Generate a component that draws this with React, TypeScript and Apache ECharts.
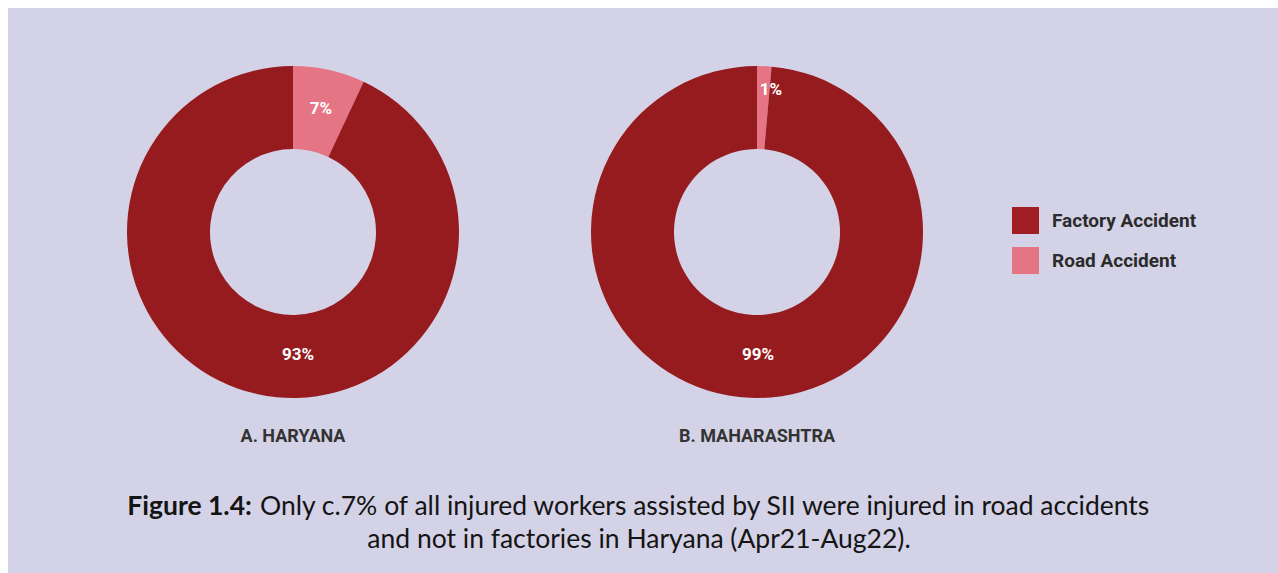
import React, { useEffect, useRef } from "react";
import * as echarts from "echarts";

const categories = ["Road Accident", "Factory Accident"];
const legendOrder = ["Factory Accident", "Road Accident"];
const haryanaValues = [7, 93];
const maharashtraValues = [1.4, 98.6];
const panelTitles = ["A. HARYANA", "B. MAHARASHTRA"];
const captionBold = "Figure 1.4:";
const captionLine1 = " Only c.7% of all injured workers assisted by SII were injured in road accidents";
const captionLine2 = "and not in factories in Haryana (Apr21-Aug22).";

const FACTORY = "#961b1f";
const ROAD = "#e57585";
const BG = "#d4d2e6";

export default function App() {
  const ref = useRef<HTMLDivElement>(null);
  useEffect(() => {
    if (!ref.current) return;
    const chart = echarts.init(ref.current, null, { renderer: "svg" });
    const centers = [
      [285, 224],
      [749, 224],
    ];
    // label anchor offsets from the pie centre: [small slice, big slice]
    const labelOffsets = [
      [null, [5, 122]],
      [[14, -143], [1, 122]],
    ];
    const datasets = [haryanaValues, maharashtraValues];
    const series = datasets.map((vals, si) => ({
      type: "pie",
      center: centers[si],
      radius: [83, 166],
      startAngle: 90,
      clockwise: true,
      silent: true,
      data: categories.map((c, i) => ({
        name: c,
        value: vals[i],
        itemStyle: { color: c === "Factory Accident" ? FACTORY : ROAD },
      })),
      label: {
        show: true,
        position: "inside",
        formatter: (p: any) => Math.round(p.percent) + "%",
        color: "#ffffff",
        fontFamily: "Roboto",
        fontWeight: "bold",
        fontSize: 17,
      },
      labelLayout: (p: any) => {
        const off = labelOffsets[si][p.dataIndex];
        if (off) {
          return {
            x: centers[si][0] + off[0],
            y: centers[si][1] + off[1],
            align: "center",
            verticalAlign: "middle",
          };
        }
        return {};
      },
      labelLine: { show: false },
      emphasis: { disabled: true },
    }));

    chart.setOption({
      animation: false,
      backgroundColor: BG,
      title: [
        ...panelTitles.map((t, i) => ({
          text: t,
          left: centers[i][0],
          top: 418,
          padding: 0,
          textAlign: "center",
          textStyle: {
            fontFamily: "Roboto",
            fontWeight: "bold",
            fontSize: 18,
            color: "#333333",
          },
        })),
        {
          text: `{b|${captionBold}}${captionLine1}\n${captionLine2}`,
          left: 631,
          top: 480,
          padding: 0,
          textAlign: "center",
          textStyle: {
            rich: {
              b: {
                fontFamily: "Lato",
                fontWeight: "bold",
                fontSize: 26.5,
                color: "#141414",
                lineHeight: 33,
              },
            },
            fontFamily: "Lato",
            fontWeight: "normal",
            fontSize: 26.5,
            color: "#141414",
            lineHeight: 33,
          },
        },
      ],
      legend: {
        orient: "vertical",
        left: 999,
        top: 194,
        icon: "rect",
        itemWidth: 27,
        itemHeight: 27,
        itemGap: 13,
        selectedMode: false,
        data: legendOrder.map((n) => ({
          name: n,
          itemStyle: { color: n === "Factory Accident" ? "#a11f24" : ROAD },
        })),
        textStyle: {
          fontFamily: "Roboto",
          fontWeight: "bold",
          fontSize: 19,
          color: "#2b2b2b",
          padding: [0, 0, 0, 8],
        },
      },
      series,
    });
    return () => chart.dispose();
  }, []);
  return (
    <div
      ref={ref}
      style={{ position: "absolute", left: 8, top: 8, width: 1270, height: 565 }}
    />
  );
}
